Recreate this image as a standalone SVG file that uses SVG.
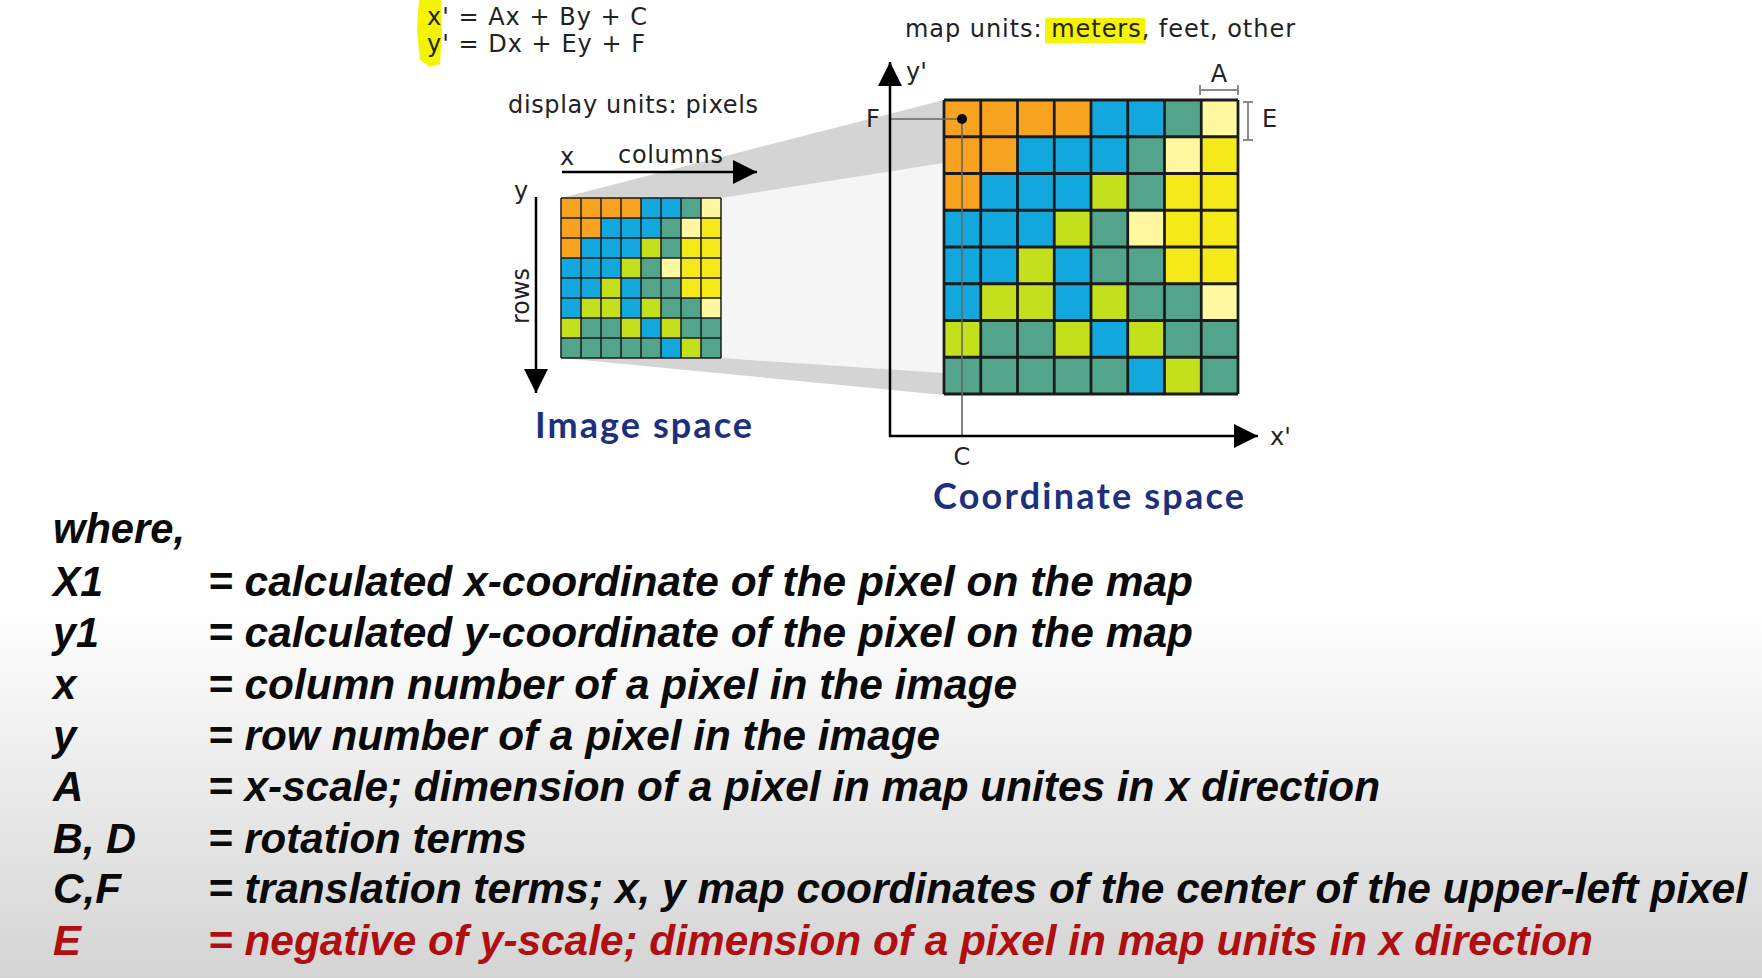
<svg xmlns="http://www.w3.org/2000/svg" xmlns:xlink="http://www.w3.org/1999/xlink" width="1762" height="978" viewBox="0 0 1762 978">
<style>
.o{fill:#F7A320}.b{fill:#12A8DE}.t{fill:#52A58A}.g{fill:#C4DF1B}.y{fill:#F5E91A}.l{fill:#FFF8A0}
.lbl{font-family:"DejaVu Sans","Open Sans",sans-serif;fill:#222;font-size:24px}
.ttl{font-family:Lato,"Open Sans",sans-serif;font-weight:700;fill:#1d2f7d;font-size:36px}
.def{font-family:"Liberation Sans",Arial,sans-serif;font-weight:700;font-style:italic;font-size:42px;fill:#0a0a0a}
.red{fill:#b00f12}
.axis{stroke:#000;stroke-width:2.5;fill:none}
.thin{stroke:#666;stroke-width:1.6;fill:none}
.dim{stroke:#8a8a8a;stroke-width:2;fill:none}
</style>
<defs>
<linearGradient id="bg" x1="0" y1="0" x2="0" y2="1">
<stop offset="0" stop-color="#ffffff"/>
<stop offset="0.62" stop-color="#ffffff"/>
<stop offset="1" stop-color="#d4d4d4"/>
</linearGradient>
<marker id="ah" markerUnits="userSpaceOnUse" markerWidth="26" markerHeight="26" refX="24" refY="12" orient="auto" viewBox="0 0 26 26">
<path d="M0,0 L24,12 L0,24 z" fill="#000"/>
</marker>
<g id="raster">
<rect class="o" x="0" y="0" width="20" height="20"/><rect class="o" x="20" y="0" width="20" height="20"/><rect class="o" x="40" y="0" width="20" height="20"/><rect class="o" x="60" y="0" width="20" height="20"/><rect class="b" x="80" y="0" width="20" height="20"/><rect class="b" x="100" y="0" width="20" height="20"/><rect class="t" x="120" y="0" width="20" height="20"/><rect class="l" x="140" y="0" width="20" height="20"/>
<rect class="o" x="0" y="20" width="20" height="20"/><rect class="o" x="20" y="20" width="20" height="20"/><rect class="b" x="40" y="20" width="20" height="20"/><rect class="b" x="60" y="20" width="20" height="20"/><rect class="b" x="80" y="20" width="20" height="20"/><rect class="t" x="100" y="20" width="20" height="20"/><rect class="l" x="120" y="20" width="20" height="20"/><rect class="y" x="140" y="20" width="20" height="20"/>
<rect class="o" x="0" y="40" width="20" height="20"/><rect class="b" x="20" y="40" width="20" height="20"/><rect class="b" x="40" y="40" width="20" height="20"/><rect class="b" x="60" y="40" width="20" height="20"/><rect class="g" x="80" y="40" width="20" height="20"/><rect class="t" x="100" y="40" width="20" height="20"/><rect class="y" x="120" y="40" width="20" height="20"/><rect class="y" x="140" y="40" width="20" height="20"/>
<rect class="b" x="0" y="60" width="20" height="20"/><rect class="b" x="20" y="60" width="20" height="20"/><rect class="b" x="40" y="60" width="20" height="20"/><rect class="g" x="60" y="60" width="20" height="20"/><rect class="t" x="80" y="60" width="20" height="20"/><rect class="l" x="100" y="60" width="20" height="20"/><rect class="y" x="120" y="60" width="20" height="20"/><rect class="y" x="140" y="60" width="20" height="20"/>
<rect class="b" x="0" y="80" width="20" height="20"/><rect class="b" x="20" y="80" width="20" height="20"/><rect class="g" x="40" y="80" width="20" height="20"/><rect class="b" x="60" y="80" width="20" height="20"/><rect class="t" x="80" y="80" width="20" height="20"/><rect class="t" x="100" y="80" width="20" height="20"/><rect class="y" x="120" y="80" width="20" height="20"/><rect class="y" x="140" y="80" width="20" height="20"/>
<rect class="b" x="0" y="100" width="20" height="20"/><rect class="g" x="20" y="100" width="20" height="20"/><rect class="g" x="40" y="100" width="20" height="20"/><rect class="b" x="60" y="100" width="20" height="20"/><rect class="g" x="80" y="100" width="20" height="20"/><rect class="t" x="100" y="100" width="20" height="20"/><rect class="t" x="120" y="100" width="20" height="20"/><rect class="l" x="140" y="100" width="20" height="20"/>
<rect class="g" x="0" y="120" width="20" height="20"/><rect class="t" x="20" y="120" width="20" height="20"/><rect class="t" x="40" y="120" width="20" height="20"/><rect class="g" x="60" y="120" width="20" height="20"/><rect class="b" x="80" y="120" width="20" height="20"/><rect class="g" x="100" y="120" width="20" height="20"/><rect class="t" x="120" y="120" width="20" height="20"/><rect class="t" x="140" y="120" width="20" height="20"/>
<rect class="t" x="0" y="140" width="20" height="20"/><rect class="t" x="20" y="140" width="20" height="20"/><rect class="t" x="40" y="140" width="20" height="20"/><rect class="t" x="60" y="140" width="20" height="20"/><rect class="t" x="80" y="140" width="20" height="20"/><rect class="b" x="100" y="140" width="20" height="20"/><rect class="g" x="120" y="140" width="20" height="20"/><rect class="t" x="140" y="140" width="20" height="20"/>
<path d="M0,0V160M20,0V160M40,0V160M60,0V160M80,0V160M100,0V160M120,0V160M140,0V160M160,0V160M0,0H160M0,20H160M0,40H160M0,60H160M0,80H160M0,100H160M0,120H160M0,140H160M0,160H160" stroke="#1b1b1b" stroke-width="1.5" fill="none"/>
</g>
</defs>
<rect x="0" y="0" width="1762" height="978" fill="url(#bg)"/>

<g id="projection">
<polygon points="721,198 944,163 944,373 721,358" fill="#f5f5f5"/>
<polygon points="561,198 944,100 944,163 721,198" fill="#d4d4d4"/>
<polygon points="561,358 721,358 944,373 944,395" fill="#d4d4d4"/>
</g>

<g id="equations">
<path d="M419,0 L441,0 L442,30 L440,64 L430,67 L420,60 L417,30 z" fill="#f4f400"/>
<text class="lbl" x="427" y="25" font-size="26" textLength="220">x' = Ax + By + C</text>
<text class="lbl" x="427" y="52" font-size="26" textLength="218">y' = Dx + Ey + F</text>
</g>

<g id="image-space">
<text class="lbl" x="508" y="113" textLength="250">display units: pixels</text>
<text class="lbl" x="560" y="165">x</text>
<text class="lbl" x="618" y="163" textLength="105">columns</text>
<text class="lbl" x="514" y="199">y</text>
<text class="lbl" font-size="19" text-anchor="middle" transform="translate(529,296) rotate(-90)">rows</text>
<use xlink:href="#raster" href="#raster" transform="translate(561,198)"/>
<text class="ttl" x="535" y="438" textLength="217">Image space</text>
</g>

<g id="coordinate-space">
<rect x="1045" y="18" width="100" height="25" fill="#f4f400"/>
<text class="lbl" x="905" y="37" textLength="390">map units: meters, feet, other</text>
<text class="lbl" x="906" y="80">y'</text>
<text class="lbl" x="1270" y="445">x'</text>
<use xlink:href="#raster" href="#raster" transform="translate(944,100) scale(1.8375)"/>
<path class="dim" d="M1200,90H1238M1200,85V95M1238,85V95"/>
<text class="lbl" x="1219" y="82" text-anchor="middle">A</text>
<path class="dim" d="M1248,102V140M1243,102H1253M1243,140H1253"/>
<text class="lbl" x="1262" y="127">E</text>
<path class="thin" d="M890,119H962M962,119V437"/>
<circle cx="962" cy="119" r="5" fill="#000"/>
<text class="lbl" x="866" y="127">F</text>
<text class="lbl" x="962" y="465" text-anchor="middle">C</text>
<text class="ttl" x="933" y="509" textLength="311">Coordinate space</text>
</g>

<g id="connectors">
<line class="axis" x1="562" y1="172" x2="757" y2="172" marker-end="url(#ah)"/>
<line class="axis" x1="536" y1="197" x2="536" y2="393" marker-end="url(#ah)"/>
<line class="axis" x1="890" y1="437" x2="890" y2="62" marker-end="url(#ah)"/>
<line class="axis" x1="889" y1="436" x2="1258" y2="436" marker-end="url(#ah)"/>
</g>

<g id="definitions">
<text class="def" x="53" y="543" textLength="132" lengthAdjust="spacingAndGlyphs">where,</text>
<text class="def" x="53" y="596" textLength="50" lengthAdjust="spacingAndGlyphs">X1</text>
<text class="def" x="208" y="596" textLength="985" lengthAdjust="spacingAndGlyphs">= calculated x-coordinate of the pixel on the map</text>
<text class="def" x="53" y="647" textLength="46" lengthAdjust="spacingAndGlyphs">y1</text>
<text class="def" x="208" y="647" textLength="985" lengthAdjust="spacingAndGlyphs">= calculated y-coordinate of the pixel on the map</text>
<text class="def" x="53" y="699">x</text>
<text class="def" x="208" y="699" textLength="809" lengthAdjust="spacingAndGlyphs">= column number of a pixel in the image</text>
<text class="def" x="53" y="750">y</text>
<text class="def" x="208" y="750" textLength="732" lengthAdjust="spacingAndGlyphs">= row number of a pixel in the image</text>
<text class="def" x="53" y="801">A</text>
<text class="def" x="208" y="801" textLength="1172" lengthAdjust="spacingAndGlyphs">= x-scale; dimension of a pixel in map unites in x direction</text>
<text class="def" x="53" y="853" textLength="83" lengthAdjust="spacingAndGlyphs">B, D</text>
<text class="def" x="208" y="853" textLength="319" lengthAdjust="spacingAndGlyphs">= rotation terms</text>
<text class="def" x="53" y="903" textLength="68" lengthAdjust="spacingAndGlyphs">C,F</text>
<text class="def" x="208" y="903" textLength="1539" lengthAdjust="spacingAndGlyphs">= translation terms; x, y map coordinates of the center of the upper-left pixel</text>
<text class="def red" x="53" y="955">E</text>
<text class="def red" x="208" y="955" textLength="1385" lengthAdjust="spacingAndGlyphs">= negative of y-scale; dimension of a pixel in map units in x direction</text>
</g>
</svg>
